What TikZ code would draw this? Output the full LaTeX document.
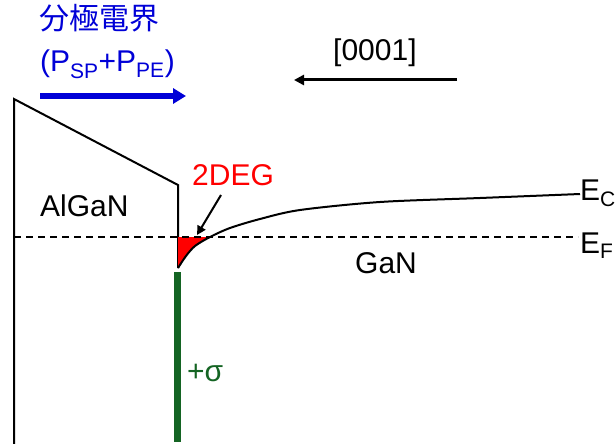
\documentclass[tikz,border=0pt]{standalone}
\usepackage{fontspec}
\setmainfont{Liberation Sans}
\newfontfamily\cjkfont{Noto Sans CJK JP}
\usetikzlibrary{arrows.meta}

\definecolor{fieldblue}{RGB}{0,0,215}
\definecolor{degred}{RGB}{255,0,0}
\definecolor{sigmagreen}{RGB}{20,100,35}

\begin{document}
\begin{tikzpicture}[
                x=1pt, y=-1pt,
                bandline/.style = {line width=2pt, line join=miter},
                label/.style = {inner sep=0pt, anchor=base west, font=\fontsize{30}{34}\selectfont}
        ]
        \useasboundingbox (0,0) rectangle (616,444);

        % band edges
        \draw[bandline] (14,448) -- (14,99) -- (178,185) -- (178,268);
        \fill[degred] plot[smooth] coordinates {(178,268) (186,256) (195,246) (210,237)} -- (178,237) -- cycle;
        \draw[line width=1.6pt, dash pattern=on 7pt off 5pt] (14,237) -- (578,237);
        \draw[bandline] plot[smooth] coordinates {(178,268) (186,256) (195,246) (210,237) (230,228) (260,219) (300,210) (380,202) (480,198) (580,194)};
        \draw[line width=7pt, sigmagreen] (177,272) -- (177,442);

        % labels
        \node[label] (algan) at (40,216) {AlGaN};
        \node[label] (gan) at (355,273) {GaN};
        \node[label, text=degred] (deg) at (192,185) {2DEG};
        \node[label] (ec) at (580,200) {E\textsubscript{C}};
        \node[label] (ef) at (580,253) {E\textsubscript{F}};
        \node[label, text=sigmagreen] (sigma) at (187,381) {+σ};
        \node[label] (dir) at (333,61) {[0001]};
        \node[label, text=fieldblue, font=\cjkfont\fontsize{30}{34}\selectfont] (field) at (39,30) {分極電界};
        \node[label, text=fieldblue] (pol) at (40,72) {(P\textsubscript{SP}+P\textsubscript{PE})};

        % arrows
        \coordinate (degtip) at (197,235);
        \draw[line width=2pt, -{Triangle[length=9pt, width=9pt]}] (221,195) -- (degtip);
        \coordinate (fieldstart) at (40,96);
        \coordinate (fieldend) at (186,96);
        \draw[fieldblue, line width=5pt, -{Triangle[length=13pt, width=15pt]}] (fieldstart) -- (fieldend);
        \coordinate (dirstart) at (457,80);
        \coordinate (dirend) at (294,80);
        \draw[line width=3pt, -{Triangle[length=10pt, width=10pt]}] (dirstart) -- (dirend);
\end{tikzpicture}
\end{document}
